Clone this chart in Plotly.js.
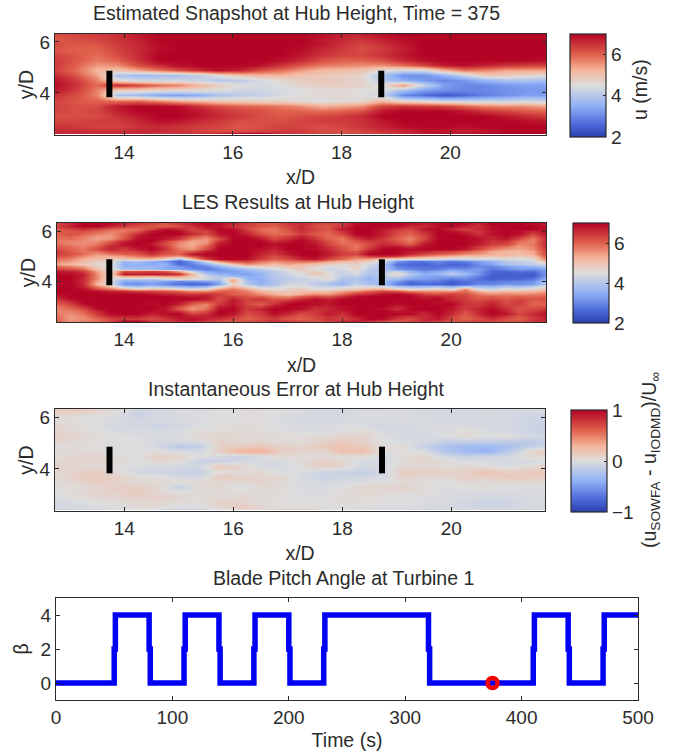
<!DOCTYPE html>
<html><head><meta charset="utf-8">
<script src="https://cdn.plot.ly/plotly-3.0.1.min.js"></script>
<style>html,body{margin:0;padding:0;background:#fff}#c{width:678px;height:755px}</style>
</head><body><div id="c"></div>
<script>
// Grid coordinates
var xCoarse=[12.75,13.125,13.5,13.875,14.25,14.625,15,15.375,15.75,16.125,16.5,16.875,17.25,17.625,18,18.375,18.75,19.125,19.5,19.875,20.25,20.625,21,21.375,21.75];
var xFine=[12.75,13,13.25,13.5,13.75,14,14.25,14.5,14.75,15,15.25,15.5,15.75,16,16.25,16.5,16.75,17,17.25,17.5,17.75,18,18.25,18.5,18.75,19,19.25,19.5,19.75,20,20.25,20.5,20.75,21,21.25,21.5,21.75];
var yRows=[6.3,6.1,5.9,5.7,5.5,5.3,5.1,4.9,4.7,4.5,4.3,4.1,3.9,3.7,3.5,3.3,3.1,2.9,2.7,2.5,2.42];
var yRowsFine=[6.3,6.2,6.1,6,5.9,5.8,5.7,5.6,5.5,5.4,5.3,5.2,5.1,5,4.9,4.8,4.7,4.6,4.5,4.4,4.3,4.2,4.1,4,3.9,3.8,3.7,3.6,3.5,3.4,3.3,3.2,3.1,3,2.9,2.8,2.7,2.6,2.5,2.42];
// Estimated snapshot u (m/s), rows top to bottom
var estimated=[
[6.2,6.3,6.4,6.5,6.8,7,7,7,7,7,7,7,7,6.9,6.7,6.7,6.9,7,7,7,7,7,7,7,7],
[6.1,6.2,6.3,6.5,6.7,7,7,7,7,7,7,7,7,6.8,6.6,6.5,6.7,6.9,7,7,7,7,7,7,7],
[6.2,6.1,6.1,6.4,6.6,6.9,7,7,7,7,7,7,7,6.8,6.5,6.3,6.5,6.8,7,7,7,7,7,7,7],
[6.1,6,6,6.3,6.6,6.9,7,7,7,7,7,7,6.9,6.6,6.4,6.2,6.4,6.7,7,7,7,7,7,7,7],
[6.3,6.1,5.9,6.2,6.6,7,7,7,7,7,7,7,6.8,6.5,6.3,6.3,6.5,6.8,7,7,7,7,7,7,7],
[6.4,6.1,5.8,6,6.5,7,7,7,7,7,7,6.9,6.6,6.2,6,6,6.2,6.6,6.9,7,7,7,7,7,6.9],
[6.4,6,5.5,5.6,6.2,6.6,6.9,7,7,7,6.9,6.5,6.1,5.8,5.7,5.6,5.6,5.9,6.3,6.8,6.9,6.7,6.5,6.4,6.3],
[6.3,5.9,5.2,5,5.4,5.8,6.2,6.6,6.9,6.7,6.2,5.9,5.5,5.2,5.1,5,4.6,4.4,4.4,5.2,5.8,5.7,5.4,5.4,5.4],
[6.6,6.1,5.4,3.9,3.7,3.8,3.9,4.1,4.6,5,5.2,5.2,5,4.9,4.8,4.7,3.9,3.1,3.1,3.6,4.2,4.9,4.9,4.7,4.6],
[6.8,6.4,5.7,4.6,4.3,4.3,4.3,4.2,4,4.1,4.4,4.6,4.8,4.9,4.8,4.7,4,3.5,3.2,3,3.2,3.6,3.9,3.9,3.8],
[6.9,6.5,5.9,6.6,6.3,5.9,5.7,5.2,4.8,4.5,4.4,4.5,4.7,4.8,4.8,4.7,4.5,5.5,4.3,3.3,3,3,3.2,3.3,3.3],
[6.8,6.4,5.7,4.8,4.8,4.7,4.6,4.6,4.5,4.3,4.3,4.4,4.5,4.6,4.6,4.5,4.5,3.8,3.3,3.1,3,3,3.1,3.2,3.2],
[6.5,6.2,5.7,3.9,3.7,3.4,3.3,3.5,3.9,4.1,4.2,4.4,4.5,4.6,4.6,4.5,4.3,3,2.7,2.4,2.6,2.9,3.1,3.3,3.3],
[6.3,6.1,6,5.9,6,5.7,5.4,5.2,5,4.9,4.8,4.8,4.6,4.5,4.6,4.7,5.2,4.7,4.6,4.4,4.3,4.3,4.3,4.4,4.3],
[6.3,6.2,6.2,6.8,7,7,6.9,6.5,6.2,6,5.9,5.8,5.6,5.3,5.4,5.6,6.3,6.5,6.4,6.3,6,5.7,5.6,5.6,5.4],
[6.3,6.2,6.3,6.7,7,7,7,6.8,6.5,6.3,6.2,6,6,5.9,6,6.2,6.8,7,7,7,6.8,6.5,6.3,6.1,6],
[6.2,6.2,6.2,6.5,6.8,7,7,6.8,6.6,6.4,6.2,6.1,6.2,6.3,6.4,6.6,7,7,7,7,7,7,6.8,6.6,6.4],
[6.3,6.3,6.4,6.4,6.6,6.9,6.8,6.6,6.4,6.2,6.2,6.2,6.3,6.4,6.4,6.5,6.8,7,7,7,7,7,7,6.9,6.8],
[6.5,6.4,6.3,6.3,6.5,6.6,6.5,6.4,6.3,6.1,6.2,6.3,6.3,6.2,6.3,6.5,6.7,6.9,7,7,6.9,7,7,7,7],
[6.6,6.6,6.5,6.5,6.6,6.6,6.5,6.3,6.2,6.2,6.3,6.4,6.4,6.2,6.2,6.3,6.5,6.6,6.8,6.8,6.7,6.8,7,7,7],
[6.6,6.6,6.6,6.6,6.6,6.5,6.5,6.5,6.6,6.8,6.9,6.6,6.4,6.3,6.2,6.3,6.4,6.6,6.8,6.9,6.8,6.9,7,7,7]
];
// LES u (m/s), rows top to bottom
var les=[
[6.2,6.6,7,7,6.9,6.6,6.4,6.3,6.1,6.4,6.7,7,6.9,6.6,6.4,6.2,6.1,6.4,6.6,6.3,6.2,6.4,6.9,7,7,7,6.8,6.7,6.9,7,6.9,6.6,7,7,7,6.9,6.7],
[6.3,6.7,7,7,6.7,6.4,6.2,6.1,6,6.2,6.5,6.9,6.8,6.5,6.3,6.1,6,6.3,6.6,6.2,6.1,6.5,7,7,7,6.9,6.6,6.6,6.9,7,6.7,6.5,6.9,7,7,7,6.8],
[6.1,6.3,6.5,6.3,6,5.8,5.9,6.3,6.9,6.7,6.3,6.6,7,6.9,6.3,5.9,5.8,6.2,6.6,6.3,6.1,6.8,7,7,6.8,6.5,6.3,6.8,7,6.6,6.3,6.6,6.9,7,7,7,6.9],
[6,6.1,6.2,6,5.7,5.8,6.2,6.8,7,6.9,6.4,6.3,6.9,7,6.5,6,5.8,6.1,6.5,6.2,6,6.5,7,7,6.7,6.3,6.1,6.6,7,6.9,6.6,6.4,6.8,7,6.9,6.6,6.9],
[6,6.2,6,5.7,5.6,6,6.6,7,7,7,6.6,6.2,6.8,7,6.7,6.2,5.9,6,6.4,6.1,5.9,6.3,7,7,6.7,6.2,6,6.4,7,7,6.9,6.5,6.9,7,6.9,6.3,6.9],
[5.9,6,5.8,5.5,5.5,6,6.8,7,6.9,6.7,6.1,5.8,6.5,7,6.9,6.5,6.1,6.3,6.7,6.3,5.9,6,6.7,6.9,6.6,6.1,5.8,6.3,7,7,7,6.7,6.7,6.9,6.6,6,6.8],
[5.8,5.9,5.7,5.4,5.6,6.2,6.9,7,6.8,6.4,5.7,5.5,6.2,7,7,6.8,6.3,6.6,6.9,6.5,6,5.8,6.4,6.7,6.4,6,5.7,6.3,7,7,7,6.9,6.6,6.8,6.2,5.7,6.6],
[5.8,5.7,5.6,5.6,6,6.7,7,7,6.4,5.8,5.4,5.5,6.5,7,7,7,6.6,6.8,7,6.7,6.2,5.8,6.1,6.4,6.5,6.2,5.8,6.5,7,7,7,6.8,6.5,6.5,5.9,5.7,6.7],
[5.9,5.7,5.6,5.8,6.4,6.9,7,6.8,6.2,5.6,5.3,5.7,6.8,7,7,7,6.9,7,7,6.8,6.3,5.9,5.9,6.2,6.6,6.4,6,6.8,7,7,7,6.8,6.4,6.3,5.7,5.8,6.7],
[6.1,5.9,5.7,6,6.6,6.7,6.9,7,6.4,5.6,5.4,6,6.9,7,7,7,6.8,7,7,6.9,6.5,6.1,5.8,6.3,6.8,6.8,6.5,6.9,7,7,6.9,6.5,6.1,5.9,5.5,5.7,6.6],
[6.2,6,5.8,6.2,6.7,6.4,6.8,7,6.5,5.8,5.5,6.2,7,7,7,6.9,6.7,7,7,6.9,6.6,6.2,5.8,6.5,7,7,6.9,7,7,7,6.8,6.3,5.8,5.5,5.4,5.6,6.5],
[6.4,6.1,5.8,5.9,6.3,6.3,6.4,6.8,6.3,5.9,6.1,6.7,7,7,7,6.8,6.5,6.9,7,7,6.7,6.3,6.1,6.8,7,7,6.8,6.7,6.5,6.4,6.1,5.8,5.4,5.2,5.2,5.4,6.4],
[6.4,6.2,5.9,5.5,5.8,6,6.1,6.5,6.1,6,6.8,7,7,7,7,6.7,6.4,6.8,7,7,6.8,6.4,6.3,7,7,7,6.6,6.3,6,5.9,5.6,5.5,5.3,5.2,5.1,5.3,6.4],
[6.2,6,5.6,5.3,5.3,5.5,5.8,6,5.7,5.5,6.2,6.8,7,7,7,6.6,6.2,6.5,6.9,7,6.6,6.2,5.9,6.4,6.6,6.4,5.9,5.6,5.4,5.2,5,5,4.9,5,4.8,5,6.1],
[5.9,5.7,5.3,5.1,4.9,4.9,5.1,5.1,4.7,3.7,5,6.3,6.9,7,6.9,6.4,6,6.2,6.6,6.8,6.3,5.9,5.5,5.3,4.8,4.6,4.5,4.5,4.4,4.2,4.3,4.4,4.3,4.5,4.4,4.6,5.9],
[5.7,5.5,5.1,4.8,4.7,3.7,3.9,3.5,3.2,2.5,3.2,4.4,5.6,6.2,6.3,5.9,5.6,5.8,5.9,5.9,5.5,5.2,5.1,4.8,4.4,3.2,2.8,2.8,3,2.8,3,3.3,3.6,4,4.2,4.3,5.1],
[5.4,5.2,4.9,4.6,4.6,3.5,3.6,3.4,3.6,2.6,2.9,3.5,4.2,5,5.6,5.4,5.1,5.4,5.2,5,4.8,4.6,4.7,4.4,4,2.7,2.6,2.5,2.8,2.5,2.6,3.1,3.4,3.9,4,4.2,4.4],
[5.9,5.7,5.4,4.8,4.6,3.6,3.6,3.7,3.5,3.2,2.8,3,3.6,4.2,4.7,4.8,4.8,5,5,4.7,4.5,4.5,4.8,4.3,3.9,2.9,2.7,2.7,2.7,2.7,2.7,3,3,3.3,3.5,3.6,3.9],
[6.3,6.2,5.9,5,4.6,3.9,3.8,3.8,3.4,3.4,3.1,2.8,3.1,3.5,3.8,4.1,4.4,4.6,4.9,4.5,4.3,4.4,4.7,4.1,3.9,3.2,3,2.8,2.9,3.2,3.1,3.3,2.8,3,3.3,3.1,3.4],
[6.8,6.7,6.4,5.4,4.6,6.2,6.2,6.3,6.1,5.4,4.2,3.4,3.2,3.3,3.5,3.8,4.1,4.4,4.7,4.8,4.5,4.2,4.5,4,3.9,4.2,3.6,3.2,3.4,3.7,3.4,3.2,2.6,2.6,2.7,2.7,3.3],
[6.9,6.9,6.7,5.6,4.6,6.8,6.7,6.8,6.7,6.5,5.2,4,3.6,3.4,3.3,3.6,4,4.3,4.5,5,4.6,4.2,4.4,3.9,4.1,4.9,4,3.5,3.6,4.1,3.7,3.2,2.5,2.4,2.5,2.4,3.2],
[7,7,6.7,5.6,4.6,5.4,5.4,5.3,5.5,5.5,4.9,4.3,4,3.8,3.5,3.6,4,4.2,4.4,4.6,4.6,4.1,4.1,3.8,4,4.3,3.7,3.4,3.3,3.4,3.3,2.9,2.4,2.5,2.5,2.5,3.3],
[7,7,6.6,5.6,4.6,3.9,4.1,3.9,4.3,4.6,4.5,4.3,4,5.2,3.6,3.5,3.9,4.1,4.2,4.3,4.6,3.9,3.9,3.6,4,3.7,3.3,3.2,3.1,2.8,3,2.7,2.5,2.6,2.6,2.8,3.6],
[6.9,7,6.6,5.4,4.5,3.4,3.4,3.5,3.3,3,3.1,3.3,3.6,5.4,3.9,3.5,3.9,4.2,4.3,4.2,4.2,3.8,4,3.7,3.8,3.2,2.7,2.9,2.8,2.5,2.7,2.8,2.8,2.9,3,3.1,3.9],
[6.9,7,6.6,5.2,4.5,3.2,3.1,3.3,3,2.7,2.5,2.6,3.3,4.8,4,3.6,3.9,4.3,4.4,4.1,3.9,3.6,4.2,3.9,3.7,2.9,2.5,2.6,2.5,2.4,2.6,3,3,3.2,3.1,3.3,4],
[7,7,6.7,5.7,5,3.9,3.7,3.9,3.7,3.5,3.3,3.5,4.4,5.2,4.6,4.1,4.2,4.5,4.6,4.3,4.2,4.2,4.5,4.4,4.3,3.8,3.6,3.6,3.7,3.4,3.8,3.7,3.6,3.9,3.8,4,4.6],
[7,7,6.9,6.3,5.9,5.4,5,5.2,5.2,4.8,4.6,4.8,5.5,5.8,5.4,4.8,4.6,4.7,4.9,4.5,4.6,4.8,4.9,5.3,5.4,4.9,4.6,4.7,4.9,4.5,5.7,4.5,4.3,4.6,4.5,4.7,5],
[7,7,7,6.9,6.7,6.6,6.4,6.3,6.2,6,5.7,5.7,6,6,5.7,5.2,5,4.9,5.1,5.1,5.1,5.4,5.7,6,6.3,6.2,5.8,5.6,5.6,5.6,5.9,5.3,5,5.2,5.1,5.2,5.4],
[6.9,7,7,7,7,7,7,6.9,6.7,6.6,6.4,6.6,6.4,6,5.9,5.6,5.3,5,5.3,5.6,5.5,5.9,6.5,6.6,6.9,7,6.8,6.4,6.2,6.4,6.2,5.8,5.6,5.7,5.6,5.7,5.8],
[6.7,7,7,7,7,7,7,7,7,6.9,6.8,6.8,6.3,6.4,6.1,6,5.7,5.6,6,6.3,6.1,6.5,6.9,7,7,7,7,6.7,6.7,6.5,6.3,6,6,5.9,6,5.9,6],
[6.4,6.9,7,7,7,7,7,7,7,7,7,6.8,6.2,6.7,6.3,6.5,6.1,6.2,6.6,6.9,6.7,7,7,7,7,7,7,6.9,7,6.6,6.4,6.1,6.3,6.1,6.3,6.1,6.2],
[6.2,6.6,7,7,7,7,7,7,7,6.9,6.5,6.3,6.3,6.8,6.3,6.3,6.3,6.6,6.9,6.9,6.8,7,7,7,7,7,7,7,6.9,6.8,6.4,6.3,6.5,6.2,6.4,6,6.1],
[6,6.3,6.9,7,7,7,7,6.9,7,6.7,6,5.7,6.4,6.8,6.3,6,6.5,7,7,6.9,6.8,7,7,7,7,6.9,7,7,6.9,7,6.5,6.4,6.7,6.3,6.4,6,6],
[5.8,6.1,6.6,7,7,7,7,7,6.9,6.3,5.7,5.7,6.7,6.9,6.4,6.3,6.8,7,6.9,6.7,6.7,6.9,7,7,7,6.7,6.9,7,7,6.9,6.4,6.5,6.8,6.4,6.2,6.1,6.2],
[5.7,5.9,6.2,6.9,7,7,7,7,6.8,6.1,5.5,5.9,6.9,7,6.4,6.7,7,7,6.9,6.5,6.6,6.9,7,7,6.9,6.5,7,7,7,6.8,6.4,6.7,6.9,6.6,6.1,6.3,6.5],
[5.7,5.7,6,6.6,7,7,7,6.9,6.8,6.6,5.9,6.2,7,6.9,6.3,6.5,7,6.8,6.5,6.4,6.7,6.7,7,7,7,6.8,6.9,6.8,7,6.7,6.2,6.6,7,6.7,6.2,6.4,6.7],
[5.8,5.6,5.8,6.4,6.9,7,7,6.7,6.9,7,6.4,6.6,7,6.8,6.2,6.4,6.9,6.6,6.2,6.4,6.8,6.5,7,7,7,7,6.9,6.6,7,6.6,6.1,6.6,7,6.8,6.3,6.6,6.9],
[5.9,5.5,5.7,6.2,6.6,6.7,6.7,6.4,6.7,6.9,6.7,6.7,6.8,6.5,6.1,6.3,6.6,6.3,6.1,6.3,6.6,6.4,6.8,7,7,6.7,6.5,6.6,6.9,6.4,6,6.4,6.8,6.5,6.1,6.5,6.8],
[6,5.5,5.6,5.9,6.3,6.4,6.4,6.2,6.4,6.8,6.9,6.7,6.5,6.3,6,6.2,6.4,6.1,6,6.2,6.5,6.3,6.6,7,6.9,6.4,6.2,6.6,6.8,6.3,6,6.2,6.5,6.2,6,6.4,6.7],
[6,5.6,5.7,5.9,6.3,7,7,6.5,6.4,6.6,6.8,6.4,6.2,6.1,6.2,6.3,6.6,6.4,6.3,6.1,6.4,6.6,6.7,6.6,6.3,6.1,6.3,6.6,6.4,6.1,6.2,6.4,6.3,6.1,6.2,6.5,6.7]
];
// Instantaneous error, rows top to bottom
var errorField=[
[.12,.15,.08,.02,-.08,-.05,-.02,-.02,-.01,.02,.02,0,-.02,-.05,-.04,-.03,-.03,-.02,-.04,-.04,-.04,-.03,-.04,-.04,-.03],
[.05,.04,.01,-.02,-.1,-.05,-.03,-.01,0,.01,.02,-.02,-.04,-.05,-.04,-.02,-.02,-.03,-.03,-.05,-.05,-.04,-.05,-.07,-.08],
[.02,0,0,-.03,-.06,-.04,-.03,-.02,0,.01,.01,-.03,-.04,-.05,-.04,-.03,-.03,-.02,-.03,-.05,-.05,-.04,-.05,-.08,-.1],
[.06,.02,-.02,-.05,-.05,-.1,-.06,-.02,.01,.02,.02,-.02,-.03,-.03,-.02,-.02,-.06,-.05,-.02,-.02,-.03,-.04,-.06,-.08,-.12],
[.08,.04,.01,-.03,-.03,-.04,-.03,.02,.03,.03,.02,0,-.02,-.02,0,.03,-.03,-.06,-.04,-.02,.02,-.02,-.05,-.08,-.1],
[.1,.06,.03,0,-.02,-.03,-.02,.05,.06,.05,.03,.03,.02,.04,.06,.08,0,-.05,-.04,-.02,.05,-.02,.03,-.04,-.08],
[.06,.04,.02,0,.02,-.05,-.03,-.02,.08,.05,.07,.02,.03,.07,.15,.08,0,-.03,-.04,-.12,-.12,-.12,-.14,-.16,-.12],
[.02,.02,.01,-.01,0,-.06,-.18,-.14,.1,.12,.15,.1,.06,.15,.2,.15,.03,.02,-.12,-.24,-.3,-.32,-.28,-.16,-.08],
[.02,.03,.04,-.02,0,.02,-.04,-.05,.12,.3,.32,.12,.1,.06,.22,.2,.02,.02,-.02,-.22,-.3,-.38,-.2,.02,.15],
[.03,.06,.08,.03,0,.1,.08,0,-.04,-.1,-.03,.05,.02,.02,.02,.04,-.06,.03,.05,-.05,-.12,-.08,-.06,.02,.05],
[.05,.08,.06,.04,0,.06,.02,-.12,-.1,-.06,-.03,-.03,.03,.12,.06,-.06,-.04,.04,.08,.03,-.03,-.03,-.04,-.05,-.02],
[.1,.06,.05,-.01,-.02,-.04,-.05,-.06,.15,.08,-.04,-.05,.02,.1,.06,-.05,-.02,.03,.04,.02,.05,.02,-.03,.02,.1],
[.04,.1,.12,.03,-.06,-.08,-.1,-.12,.02,.02,.05,-.01,-.02,-.08,-.1,-.12,-.08,.15,.12,.1,.08,.2,.12,.14,.16],
[.04,.12,.15,.1,.03,.02,-.04,-.05,.14,.1,.06,.06,-.04,-.1,-.08,-.06,-.03,.08,.04,.03,.12,.1,.16,.14,.1],
[.02,.06,.12,.08,.04,.04,.02,.06,.04,.04,.08,.04,-.02,-.04,-.02,-.01,0,.04,.02,0,.02,.03,.02,.03,.02],
[.01,.03,.06,.12,.1,.06,-.12,.02,.06,-.02,.04,.03,-.02,-.03,-.01,.06,.06,.08,.03,-.02,.01,.02,-.01,0,-.01],
[-.01,.04,.08,.1,.14,.06,.01,.04,.02,.01,.03,.02,-.02,-.02,.02,.05,.04,.02,.02,-.02,-.02,-.03,-.02,-.02,-.02],
[-.02,.02,.04,.06,.08,.1,.06,.02,.04,.06,.03,.01,-.01,0,.03,.03,.02,0,-.01,-.02,-.03,-.05,-.05,-.03,-.02],
[-.04,-.02,.01,.03,.05,.06,.03,.01,.1,.08,.02,.02,0,.01,.02,.01,0,-.01,-.02,-.03,-.06,-.1,-.08,-.04,-.03],
[-.06,-.04,-.02,0,.03,.02,-.02,-.02,.04,.14,.05,.03,.01,.01,0,-.01,-.02,-.02,-.03,-.04,-.05,-.08,-.06,-.04,-.04],
[-.07,-.05,-.04,-.02,0,-.02,-.08,-.05,.02,.08,.05,.06,.08,.03,0,-.02,-.03,-.03,-.05,-.05,-.04,-.05,-.05,-.05,-.05]
];
// Turbine rotor discs
var turbineX=[13.73,13.73,null,18.73,18.73];
var turbineY=[3.83,4.87,null,3.83,4.87];
// Blade pitch
var pitchT=[0,50,50,51,51,80,80,81,81,110,110,111,111,140,140,141,141,170,170,171,171,200,200,201,201,230,230,231,231,320,320,321,321,410,410,411,411,440,440,441,441,470,470,471,471,500];
var pitchB=[0,0,2,2,4,4,2,2,0,0,2,2,4,4,2,2,0,0,2,2,4,4,2,2,0,0,2,2,4,4,2,2,0,0,2,2,4,4,2,2,0,0,2,2,4,4];
var markerT=[375], markerB=[0];
// Labels
var titles=["Estimated Snapshot at Hub Height, Time = 375","LES Results at Hub Height","Instantaneous Error at Hub Height","Blade Pitch Angle at Turbine 1"];
var uTicks=[2,4,6], errTicks=[-1,0,1], xTicks=[14,16,18,20], yTicks=[4,6], tTicks=[0,100,200,300,400,500], bTicks=[0,2,4];

var W=678,H=755;
var cs=[[0,"#2c3fae"],[0.12,"#4a68d8"],[0.3,"#8fb0f6"],[0.5,"#dddddd"],[0.65,"#f5b49a"],[0.8,"#e0604c"],[1,"#b40426"]];
var ink="#2b2b2b", fam="Liberation Sans, Arial, sans-serif", fs=19, ts=19.5;
function dom(a,b){return [1-b/H,1-a/H];}
function domX(a,b){return [a/W,b/W];}
function flip(r){return r.slice().reverse();}
function cb(top,bot,left,ticks){return {thicknessmode:"pixels",thickness:36,lenmode:"pixels",len:bot-top,x:left/W,xanchor:"left",xpad:0,y:1-top/H,yanchor:"top",ypad:0,
  tickvals:ticks,ticks:"inside",ticklen:3,tickcolor:ink,outlinecolor:ink,outlinewidth:1.2,tickfont:{family:fam,size:fs,color:ink}};}
function hm(z,x,y,ax,zmin,zmax,bar){return {type:"heatmap",x:x,y:flip(y),z:flip(z),xaxis:"x"+ax,yaxis:"y"+ax,zmin:zmin,zmax:zmax,colorscale:cs,zsmooth:"best",colorbar:bar,hoverinfo:"skip"};}
function disc(ax){return {type:"scatter",mode:"lines",x:turbineX,y:turbineY,xaxis:"x"+ax,yaxis:"y"+ax,line:{color:"#000",width:6},showlegend:false,hoverinfo:"skip"};}
var data=[
 hm(estimated,xCoarse,yRows,"",2,7,cb(34,137,570,uTicks)),disc(""),
 hm(les,xFine,yRowsFine,"2",2,7,cb(223,323,573,uTicks)),disc("2"),
 hm(errorField,xCoarse,yRows,"3",-1,1,cb(410,512,571,errTicks)),disc("3"),
 {type:"scatter",mode:"lines",x:pitchT,y:pitchB,xaxis:"x4",yaxis:"y4",line:{color:"#0000f5",width:5.5},showlegend:false,hoverinfo:"skip"},
 {type:"scatter",mode:"markers",x:markerT,y:markerB,xaxis:"x4",yaxis:"y4",marker:{symbol:"circle-open",size:10,color:"#f50000",line:{color:"#f50000",width:4.5}},showlegend:false,hoverinfo:"skip"}
];
function axis(extra){return Object.assign({showgrid:false,zeroline:false,showline:true,linecolor:ink,linewidth:1.2,mirror:"ticks",ticks:"inside",ticklen:4,tickcolor:ink,tickfont:{family:fam,size:fs,color:ink}},extra);}
function xT(t,st){return {text:t,standoff:st,font:{family:fam,size:ts,color:ink}};}
var layout={width:W,height:H,margin:{l:0,r:0,t:0,b:0},paper_bgcolor:"#fff",plot_bgcolor:"#fff",showlegend:false,
 xaxis:axis({domain:domX(55,546),range:[12.73,21.76],tickvals:xTicks,anchor:"y",title:xT("x/D",8)}),
 yaxis:axis({domain:dom(34,135),range:[2.35,6.31],tickvals:yTicks,anchor:"x",title:xT("y/D",0)}),
 xaxis2:axis({domain:domX(57,546),range:[12.77,21.74],tickvals:xTicks,anchor:"y2",title:xT("x/D",9)}),
 yaxis2:axis({domain:dom(223,322),range:[2.36,6.32],tickvals:yTicks,anchor:"x2",title:xT("y/D",0)}),
 xaxis3:axis({domain:domX(55,545),range:[12.73,21.72],tickvals:xTicks,anchor:"y3",title:xT("x/D",8)}),
 yaxis3:axis({domain:dom(409,511),range:[2.36,6.34],tickvals:yTicks,anchor:"x3",title:xT("y/D",0)}),
 xaxis4:axis({domain:domX(56,638),range:[0,500],tickvals:tTicks,anchor:"y4",title:xT("Time (s)",6)}),
 yaxis4:axis({domain:dom(598,700),range:[-1,5],tickvals:bTicks,anchor:"x4",title:xT("β",6)}),
 annotations:[
  {text:titles[0],x:296/W,y:1-13/H},{text:titles[1],x:298/W,y:1-202/H},{text:titles[2],x:296/W,y:1-389/H},{text:titles[3],x:343/W,y:1-578/H},
  {text:"u (m/s)",x:640/W,y:1-90/H,textangle:-90},
  {text:"(u<sub>SOWFA</sub> - u<sub>IODMD</sub>)/U<sub>∞</sub>",x:650/W,y:1-460/H,textangle:-90}
 ].map(function(a){return Object.assign({xref:"paper",yref:"paper",xanchor:"center",yanchor:"middle",showarrow:false,font:{family:fam,size:ts,color:ink}},a);})
};
Plotly.newPlot("c",data,layout,{displayModeBar:false,staticPlot:true});
</script></body></html>
